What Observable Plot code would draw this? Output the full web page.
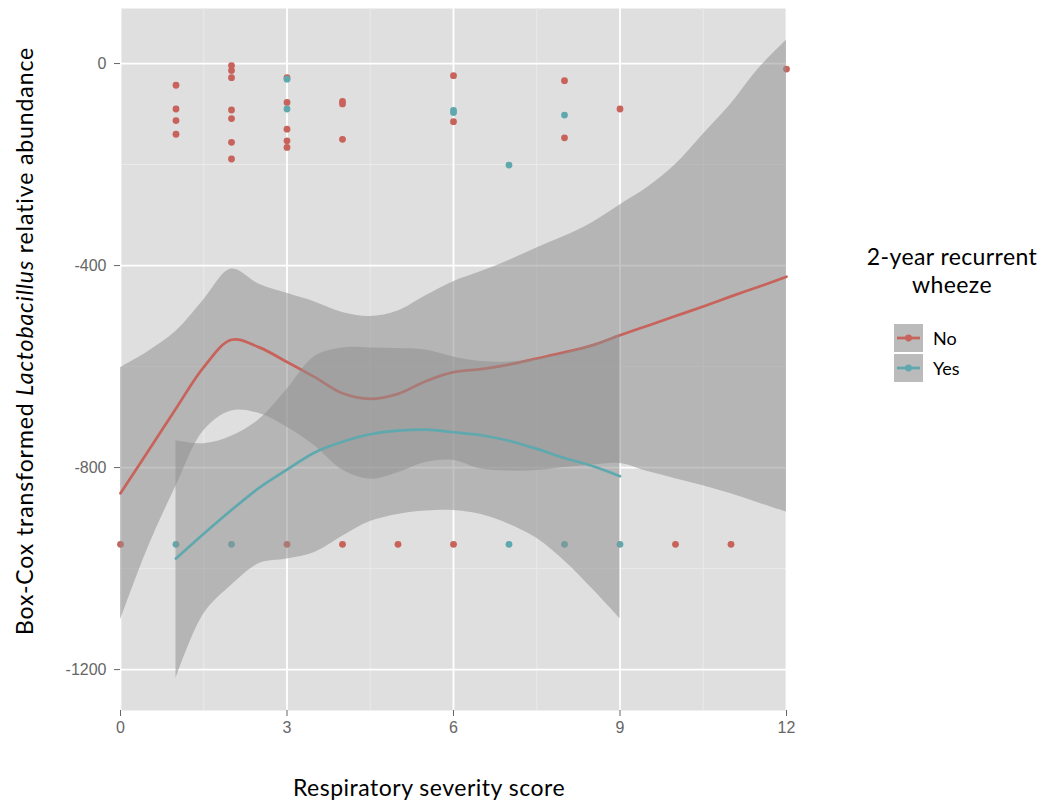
<!DOCTYPE html>
<html><head><meta charset="utf-8">
<script src="https://cdn.jsdelivr.net/npm/d3@7"></script>
<script src="https://cdn.jsdelivr.net/npm/@observablehq/plot@0.6"></script>
<style>
body{margin:0;background:#fff;overflow:hidden}
#wrap{position:relative;width:1043px;height:803px;font-family:Lato,"Open Sans",sans-serif}
.abs{position:absolute;white-space:nowrap;color:#000}
#wrap svg{display:block}
</style></head><body><div id="wrap"></div>
<script>
// ---- data ----
const groups = ["No", "Yes"];
const groupColors = ["#C8635B", "#5FA9AE"];

// raw points
const noPtX = [0, 1, 1, 1, 1, 2, 2, 2, 2, 2, 2, 2, 3, 3, 3, 3, 3, 3, 4, 4, 4, 4, 5, 6, 6, 6, 8, 8, 9, 10, 11, 12];
const noPtY = [-952, -43, -90, -113, -140, -4, -14, -28, -92, -109, -156, -189, -28, -77, -130, -153, -166, -952, -75, -80, -150, -952, -952, -24, -115, -952, -34, -147, -90, -952, -952, -11];
const yesPtX = [1, 2, 3, 3, 6, 6, 7, 7, 8, 8, 9];
const yesPtY = [-952, -952, -31, -90, -93, -97, -201, -952, -102, -952, -952];

// smoothed fit + confidence band, group "No"
const noFitX =  [0, 0.5, 1, 1.5, 2, 2.5, 3, 3.5, 4, 4.5, 5, 5.5, 6, 6.5, 7, 7.5, 8, 8.5, 9, 9.5, 10, 10.5, 11, 11.5, 12];
const noFit =   [-851, -767, -683, -601, -547, -562, -591, -621, -653, -664, -654, -629, -611, -605, -596, -584, -572, -558, -538, -519, -500, -481, -461, -442, -422];
const noLower = [-1103, -958, -837, -727, -688, -693, -720, -757, -805, -823, -810, -790, -786, -803, -807, -806, -800, -795, -792, -808, -822, -836, -852, -870, -888];
const noUpper = [-602, -570, -530, -468, -407, -437, -455, -472, -493, -501, -490, -460, -432, -412, -390, -365, -342, -315, -280, -245, -200, -140, -80, -10, 46];

// smoothed fit + confidence band, group "Yes"
const yesFitX =  [1, 1.5, 2, 2.5, 3, 3.5, 4, 4.5, 5, 5.5, 6, 6.5, 7, 7.5, 8, 8.5, 9];
const yesFit =   [-980, -931, -884, -840, -804, -770, -749, -734, -727, -725, -730, -736, -747, -763, -781, -797, -817];
const yesLower = [-1218, -1090, -1033, -990, -981, -968, -936, -907, -893, -886, -885, -893, -912, -940, -985, -1040, -1099];
const yesUpper = [-747, -753, -738, -705, -645, -580, -563, -563, -564, -567, -581, -590, -591, -585, -573, -557, -536];

// axis ticks
const xMajor = [0, 3, 6, 9, 12];
const xMinor = [1.5, 4.5, 7.5, 10.5];
const yMajor = [0, -400, -800, -1200];
const yMinor = [-200, -600, -1000];

// ---- tables ----
const points = [
  ...noPtX.map((x, i) => ({x, y: noPtY[i], g: "No"})),
  ...yesPtX.map((x, i) => ({x, y: yesPtY[i], g: "Yes"}))
];
const noBand = noFitX.map((x, i) => ({x, fit: noFit[i], lo: noLower[i], hi: noUpper[i]}));
const yesBand = yesFitX.map((x, i) => ({x, fit: yesFit[i], lo: yesLower[i], hi: yesUpper[i]}));

const bandFill = "#8F8F8F", bandOpacity = 0.53;

const plot = Plot.plot({
  width: 1043,
  height: 803,
  marginLeft: 120,
  marginRight: 257,
  marginTop: 8,
  marginBottom: 93,
  style: {fontFamily: "'Liberation Sans', Arial, sans-serif", fontSize: "16px", color: "#666", background: "transparent"},
  x: {domain: [0, 12], ticks: xMajor, tickSize: 6, tickPadding: 5, label: null, tickFormat: d => String(d)},
  y: {domain: [-1281, 109], ticks: yMajor, tickSize: 6, tickPadding: 8, label: null, tickFormat: d => String(d)},
  color: {domain: groups, range: groupColors},
  marks: [
    Plot.frame({fill: "#DFDFDF", stroke: null}),
    Plot.ruleX(xMinor, {stroke: "#EAEAEA", strokeWidth: 1}),
    Plot.ruleY(yMinor, {stroke: "#EAEAEA", strokeWidth: 1}),
    Plot.ruleX(xMajor, {stroke: "#FFFFFF", strokeWidth: 1.8}),
    Plot.ruleY(yMajor, {stroke: "#FFFFFF", strokeWidth: 1.8}),
    Plot.dot(points, {x: "x", y: "y", fill: "g", r: 3.4, stroke: null}),
    Plot.areaY(noBand, {x: "x", y1: "lo", y2: "hi", fill: bandFill, fillOpacity: bandOpacity, curve: "catmull-rom"}),
    Plot.line(noBand, {x: "x", y: "fit", stroke: groupColors[0], strokeWidth: 2.7, curve: "catmull-rom"}),
    Plot.areaY(yesBand, {x: "x", y1: "lo", y2: "hi", fill: bandFill, fillOpacity: bandOpacity, curve: "catmull-rom"}),
    Plot.line(yesBand, {x: "x", y: "fit", stroke: groupColors[1], strokeWidth: 2.7, curve: "catmull-rom"}),
    Plot.axisX({ticks: xMajor, tickSize: 6, tickPadding: 5, tickFormat: d => String(d), label: null}),
    Plot.axisY({ticks: yMajor, tickSize: 6, tickPadding: 8, tickFormat: d => String(d), label: null})
  ]
});

const wrap = document.getElementById("wrap");
wrap.appendChild(plot);

function addDiv(html, css) {
  const d = document.createElement("div");
  d.className = "abs";
  d.innerHTML = html;
  Object.assign(d.style, css);
  wrap.appendChild(d);
  return d;
}

// axis titles
addDiv("Respiratory severity score", {left: "429px", top: "787px", transform: "translate(-50%,-50%)", fontSize: "23px", letterSpacing: "0.5px"});
addDiv("Box-Cox transformed <i>Lactobacillus</i> relative abundance",
  {left: "24px", top: "341px", transform: "translate(-50%,-50%) rotate(-90deg)", fontSize: "23px", letterSpacing: "0.9px"});

// legend
addDiv("2-year recurrent<br>wheeze", {left: "952px", top: "242px", transform: "translateX(-50%)", fontSize: "23px", lineHeight: "28px", textAlign: "center", letterSpacing: "0.4px"});
groups.forEach((g, i) => {
  const top = 324 + i * 30;
  const key = `<svg width="29" height="28" style="display:block">
    <rect x="0" y="0" width="29" height="28" fill="#BBBBBB"/>
    <line x1="3" x2="26" y1="14" y2="14" stroke="${groupColors[i]}" stroke-width="2.7"/>
    <circle cx="14.5" cy="14" r="3.4" fill="${groupColors[i]}"/></svg>`;
  addDiv(key, {left: "894px", top: top + "px"});
  addDiv(g, {left: "933px", top: (top + 14) + "px", transform: "translateY(-50%)", fontSize: "18px"});
});
</script>
</body></html>
